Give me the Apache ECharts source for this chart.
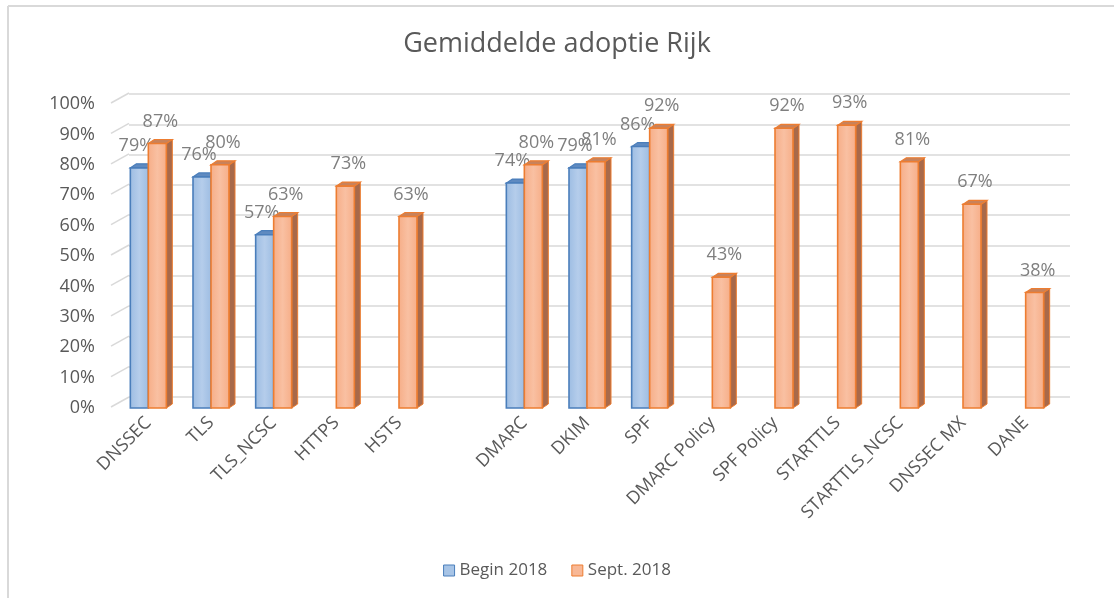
<!DOCTYPE html>
<html>
<head>
<meta charset="utf-8">
<script src="https://cdn.jsdelivr.net/npm/echarts@6/dist/echarts.min.js"></script>
<style>
  html, body { margin: 0; padding: 0; background: #fff; }
  #chart { width: 1114px; height: 598px; }
</style>
</head>
<body>
<div id="chart"></div>
<script>
  // data
  var categories = ['DNSSEC', 'TLS', 'TLS_NCSC', 'HTTPS', 'HSTS', '', 'DMARC', 'DKIM', 'SPF',
    'DMARC Policy', 'SPF Policy', 'STARTTLS', 'STARTTLS_NCSC', 'DNSSEC MX', 'DANE'];
  var begin2018 = [79, 76, 57, null, null, null, 74, 79, 86, null, null, null, null, null, null];
  var sept2018 = [87, 80, 63, 73, 63, null, 80, 81, 92, 43, 92, 93, 81, 67, 38];
  var yTicks = [0, 10, 20, 30, 40, 50, 60, 70, 80, 90, 100];

  var FONT = '"Open Sans", "Noto Sans", sans-serif';
  var BAR_W = 18, DX = 6, DY = 4;

  function toItems(arr){
    var out = [];
    arr.forEach(function(v, i){ if(v != null) out.push([i, v]); });
    return out;
  }

  // 3d looking column, side: -1 = left of slot centre, 0 = right of it
  function bar3d(cfg){
    return function(params, api){
      var ci = api.value(0), v = api.value(1);
      var base = api.coord([ci, 0]);
      var top = api.coord([ci, v]);
      var x0 = base[0] + cfg.side * BAR_W;
      var x1 = x0 + BAR_W;
      var yb = base[1], yt = top[1];
      return {
        type: 'group',
        children: [
          {
            type: 'polygon',
            shape: { points: [[x1, yt], [x1 + DX, yt - DY], [x1 + DX, yb - DY], [x1, yb]] },
            style: { fill: cfg.side_fill, stroke: cfg.border, lineWidth: 1 }
          },
          {
            type: 'polygon',
            shape: { points: [[x0, yt], [x1, yt], [x1 + DX, yt - DY], [x0 + DX, yt - DY]] },
            style: { fill: cfg.top_fill, stroke: cfg.border, lineWidth: 1.2 }
          },
          {
            type: 'rect',
            shape: { x: x0, y: yt, width: BAR_W, height: yb - yt },
            style: {
              fill: new echarts.graphic.LinearGradient(0, 0, 1, 0, [
                { offset: 0, color: cfg.edge },
                { offset: 0.5, color: cfg.mid },
                { offset: 1, color: cfg.edge }
              ]),
              stroke: cfg.border,
              lineWidth: 1.6
            }
          },
          {
            type: 'text',
            style: {
              text: v + '%',
              x: (x0 + x1) / 2 + cfg.labelDx,
              y: yt - 22,
              align: 'center',
              verticalAlign: 'middle',
              fill: '#7f7f7f',
              font: '18px ' + FONT
            }
          }
        ]
      };
    };
  }

  // little slanted stubs joining the front axis with the back wall
  function gridStub(params, api){
    var p = api.coord([0, api.value(0)]);
    var x = params.coordSys.x;
    return {
      type: 'line',
      shape: { x1: x - 6, y1: p[1] - 1, x2: x + 12, y2: p[1] - 11 },
      style: { stroke: '#d9d9d9', lineWidth: 1.5 }
    };
  }

  var chart = echarts.init(document.getElementById('chart'));
  var option = {
    backgroundColor: '#fff',
    animation: false,
    title: {
      text: 'Gemiddelde adoptie Rijk',
      left: 'center',
      top: 26,
      textStyle: { color: '#595959', fontSize: 27, fontWeight: 'normal', fontFamily: FONT }
    },
    legend: {
      bottom: 14,
      left: 'center',
      itemWidth: 11,
      itemHeight: 11,
      itemGap: 24,
      icon: 'rect',
      textStyle: { color: '#595959', fontSize: 17, fontFamily: FONT },
      data: [
        { name: 'Begin 2018', itemStyle: { color: '#a7c4e6', borderColor: '#4a7ebb', borderWidth: 1 } },
        { name: 'Sept. 2018', itemStyle: { color: '#f8b896', borderColor: '#ed7d31', borderWidth: 1 } }
      ]
    },
    graphic: [
      { type: 'line', shape: { x1: 8, y1: 6, x2: 1114, y2: 6 }, style: { stroke: '#d9d9d9', lineWidth: 2 } },
      { type: 'line', shape: { x1: 8, y1: 6, x2: 8, y2: 598 }, style: { stroke: '#d9d9d9', lineWidth: 2 } }
    ],
    grid: [
      { left: 117, right: 57, top: 104, bottom: 190 },
      { left: 129, right: 44, top: 94, bottom: 201 }
    ],
    xAxis: [
      {
        gridIndex: 0,
        type: 'category',
        data: categories,
        axisLine: { show: false },
        axisTick: { show: false },
        axisLabel: {
          interval: 0,
          rotate: 45,
          margin: 12,
          color: '#595959',
          fontSize: 18,
          fontFamily: FONT
        }
      },
      {
        gridIndex: 1,
        type: 'category',
        data: categories,
        show: false
      }
    ],
    yAxis: [
      {
        gridIndex: 0,
        type: 'value',
        min: 0,
        max: 100,
        interval: 10,
        axisLine: { show: false },
        axisTick: { show: false },
        splitLine: { show: false },
        axisLabel: { formatter: '{value}%', color: '#595959', fontSize: 18, fontFamily: FONT, margin: 22 }
      },
      {
        gridIndex: 1,
        type: 'value',
        min: 0,
        max: 100,
        interval: 10,
        axisLine: { show: false },
        axisTick: { show: false },
        axisLabel: { show: false },
        splitLine: { lineStyle: { color: '#d9d9d9', width: 1.5 } }
      }
    ],
    series: [
      {
        type: 'custom',
        silent: true,
        xAxisIndex: 0,
        yAxisIndex: 0,
        data: yTicks.map(function(t){ return [t]; }),
        encode: { y: 0 },
        renderItem: gridStub,
        z: 1
      },
      {
        name: 'Begin 2018',
        type: 'custom',
        xAxisIndex: 0,
        yAxisIndex: 0,
        itemStyle: { color: '#a7c4e6', borderColor: '#4a7ebb' },
        data: toItems(begin2018),
        encode: { x: 0, y: 1 },
        renderItem: bar3d({
          side: -1, edge: '#9cbce2', mid: '#b5cdeb', border: '#4a7ebb',
          top_fill: '#5f8ac0', side_fill: '#4c74a6', labelDx: -3
        }),
        z: 2
      },
      {
        name: 'Sept. 2018',
        type: 'custom',
        xAxisIndex: 0,
        yAxisIndex: 0,
        itemStyle: { color: '#f8b896', borderColor: '#ed7d31' },
        data: toItems(sept2018),
        encode: { x: 0, y: 1 },
        renderItem: bar3d({
          side: 0, edge: '#f6ad87', mid: '#f9c0a2', border: '#ed7d31',
          top_fill: '#c9825a', side_fill: '#a8694a', labelDx: 3
        }),
        z: 3
      }
    ]
  };
  chart.setOption(option);
</script>
</body>
</html>
